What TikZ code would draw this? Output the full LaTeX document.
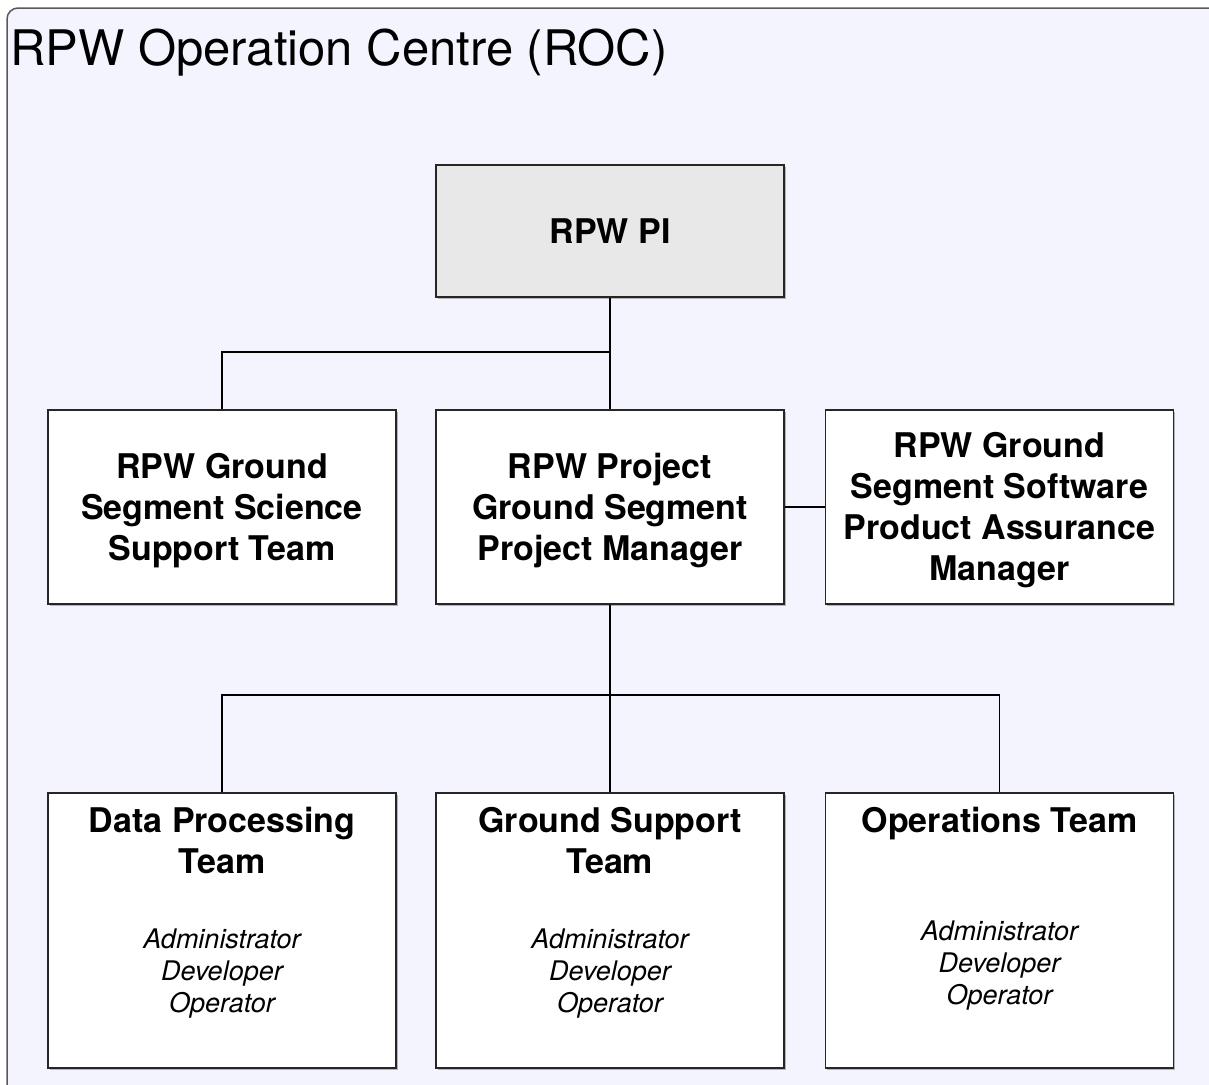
\documentclass[tikz,border=0pt]{standalone}
\usepackage{fontspec}
\setmainfont{TeX Gyre Heros}
\usetikzlibrary{positioning,shadows}
\definecolor{roc}{HTML}{F4F4FF}
\definecolor{pigray}{HTML}{E8E8E8}
\tikzset{
  unit/.style={draw=black!85, line width=1.4pt, fill=white, minimum width=348pt,
    inner sep=0pt, align=center, font=\bfseries\fontsize{34}{41}\selectfont,
    drop shadow={shadow xshift=1.5pt, shadow yshift=-1.5pt, opacity=0.45, fill=black!60}},
  team/.style={unit, minimum height=275pt},
  head/.style={inner sep=0pt, align=center, font=\bfseries\fontsize{34}{41}\selectfont},
  roles/.style={inner sep=0pt, align=center, font=\itshape\fontsize{27}{32}\selectfont},
  link/.style={line width=1.8pt}
}
\begin{document}
\begin{tikzpicture}[x=1pt,y=-1pt]
\useasboundingbox (0,0) rectangle (1209,1084);
\begin{scope}
\clip (0,0) rectangle (1209,1084);
\draw[fill=roc, draw=black!65, line width=1.5pt, rounded corners=11pt] (7,8) rectangle (1225,1110);
\end{scope}
\node[anchor=base west, inner sep=0pt, font=\fontsize{49}{58}\selectfont] (title) at (10,65) {RPW Operation Centre (ROC)};

\node[unit, fill=pigray, minimum height=132pt] (pi) at (610,231) {RPW PI};
\node[unit, minimum height=194pt] (pm) at (610,507) {};
\node[unit, minimum height=194pt] (ss) at (222,507) {};
\node[unit, minimum height=194pt] (pa) at (999.5,507) {};
\node[head] (pmtext) at ([yshift=-4pt]pm.center) {RPW Project\\Ground Segment\\Project Manager};
\node[head] (sstext) at ([yshift=-4pt]ss.center) {RPW Ground\\Segment Science\\Support Team};
\node[head] (patext) at ([yshift=-3pt]pa.center) {RPW Ground\\Segment Software\\Product Assurance\\Manager};

\node[team] (dp) at (222,930.5) {};
\node[team] (gs) at (610,930.5) {};
\node[team] (ops) at (999.5,930.5) {};
\node[head, anchor=north] (dphead) at ([yshift=-15pt]dp.north) {Data Processing\\Team};
\node[head, anchor=north] (gshead) at ([yshift=-15pt]gs.north) {Ground Support\\Team};
\node[head, anchor=north] (opshead) at ([yshift=-15pt]ops.north) {Operations Team};
\node[roles] (dproles) at ([yshift=-181pt]dp.north) {Administrator\\Developer\\Operator};
\node[roles] (gsroles) at ([yshift=-181pt]gs.north) {Administrator\\Developer\\Operator};
\node[roles] (opsroles) at ([yshift=-173pt]ops.north) {Administrator\\Developer\\Operator};

\coordinate (upfork) at (610,352);
\coordinate (lowfork) at (610,695);
\draw[link] (pi.south) -- (pm.north);
\draw[link] (ss.north) |- (upfork);
\draw[link] (pm.east) -- (pa.west);
\draw[link] (pm.south) -- (gs.north);
\draw[link] (dp.north) |- (lowfork);
\draw[link] (ops.north) |- (lowfork);
\end{tikzpicture}
\end{document}
